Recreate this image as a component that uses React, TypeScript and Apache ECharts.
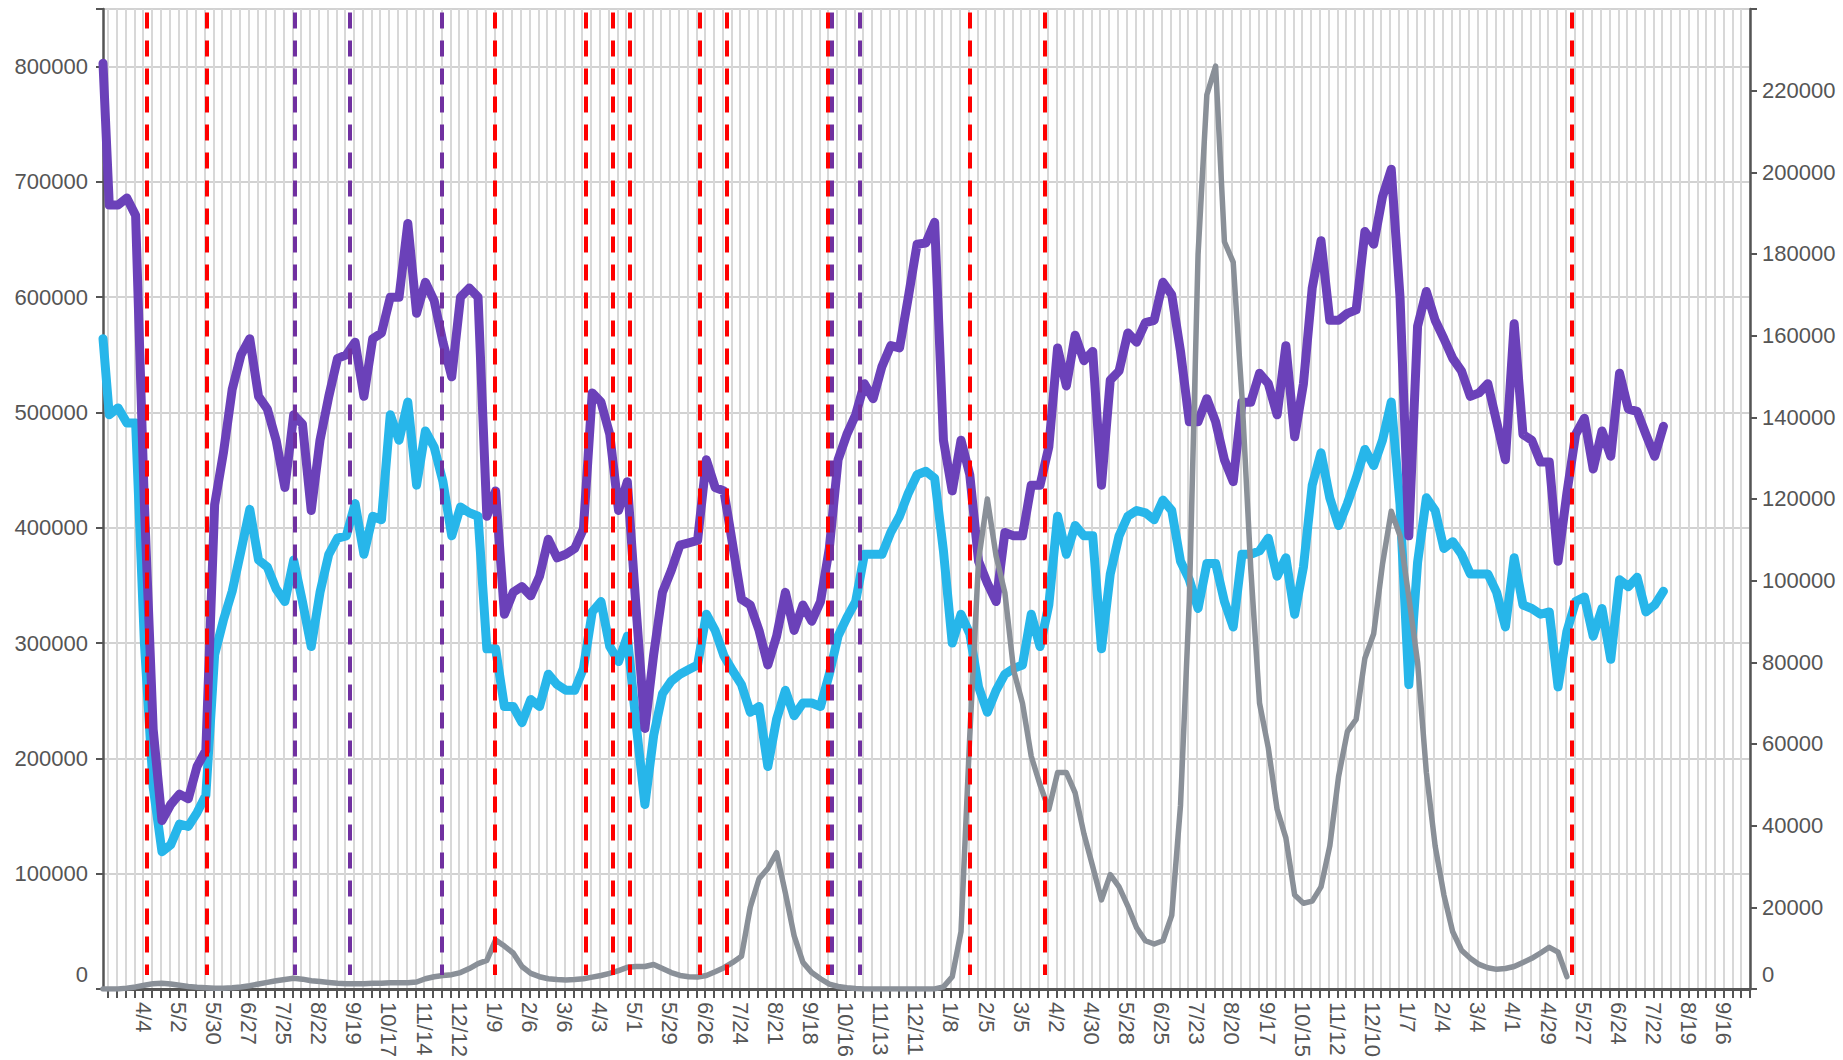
import React, { useEffect, useRef } from 'react';
import * as echarts from 'echarts';

// ---- time frame ----
const axisStartDate = '2020-03-03';
const axisEndDate = '2023-10-07';
const firstTickDate = '2020-03-07'; // weekly ticks (Saturdays)
const firstLabelDate = '2020-04-04'; // a label every 4 weeks
const firstPointDate = '2020-03-03';
const weeklyPointsStart = '2020-03-08';

const xTickLabels = [
  '4/4', '5/2', '5/30', '6/27', '7/25', '8/22', '9/19', '10/17', '11/14', '12/12',
  '1/9', '2/6', '3/6', '4/3', '5/1', '5/29', '6/26', '7/24', '8/21', '9/18', '10/16', '11/13', '12/11',
  '1/8', '2/5', '3/5', '4/2', '4/30', '5/28', '6/25', '7/23', '8/20', '9/17', '10/15', '11/12', '12/10',
  '1/7', '2/4', '3/4', '4/1', '4/29', '5/27', '6/24', '7/22', '8/19', '9/16',
];

// ---- series values ----
const purpleValues = [
  803000, 680000, 680000, 686000, 671000, 420000, 225000, 146000, 160000, 169000,
  165000, 193000, 207000, 420000, 465000, 520000, 550000, 564000, 514000, 503000,
  476000, 435000, 498000, 490000, 415000, 476000, 514000, 547000, 550000, 561000,
  514000, 564000, 569000, 600000, 600000, 664000, 586000, 613000, 597000, 561000,
  531000, 600000, 608000, 600000, 410000, 432000, 325000, 344000, 349000, 341000,
  358000, 390000, 374000, 377000, 382000, 399000, 517000, 509000, 481000, 415000,
  440000, 330000, 226000, 290000, 344000, 363000, 385000, 387000, 389000, 459000,
  435000, 432000, 385000, 338000, 333000, 311000, 281000, 306000, 344000, 311000,
  333000, 319000, 336000, 382000, 459000, 481000, 498000, 525000, 512000, 540000,
  558000, 556000, 600000, 646000, 647000, 665000, 476000, 432000, 476000, 446000,
  371000, 352000, 336000, 396000, 393000, 393000, 437000, 437000, 470000, 556000,
  523000, 567000, 545000, 553000, 437000, 528000, 536000, 569000, 561000, 578000,
  580000, 613000, 602000, 553000, 492000, 492000, 512000, 492000, 459000, 440000,
  509000, 509000, 534000, 525000, 498000, 558000, 479000, 525000, 608000, 649000,
  580000, 580000, 586000, 589000, 657000, 646000, 687000, 711000, 600000, 393000,
  575000, 605000, 580000, 564000, 547000, 536000, 514000, 517000, 525000, 492000,
  459000, 577000, 481000, 476000, 457000, 457000, 371000, 430000, 481000, 495000,
  451000, 484000, 462000, 534000, 503000, 501000, 481000, 462000, 488000,
];

const blueValues = [
  564000, 498000, 504000, 491000, 491000, 300000, 175000, 119000, 125000, 143000,
  141000, 153000, 168000, 290000, 320000, 345000, 380000, 416000, 372000, 366000,
  347000, 336000, 372000, 336000, 297000, 344000, 377000, 391000, 393000, 421000,
  377000, 410000, 407000, 498000, 476000, 509000, 437000, 484000, 470000, 440000,
  393000, 418000, 413000, 410000, 295000, 295000, 245000, 245000, 231000, 251000,
  245000, 273000, 264000, 259000, 259000, 278000, 327000, 336000, 297000, 284000,
  306000, 230000, 160000, 220000, 256000, 267000, 273000, 277000, 281000, 325000,
  311000, 289000, 276000, 264000, 240000, 245000, 193000, 234000, 259000, 237000,
  248000, 248000, 245000, 273000, 306000, 322000, 336000, 377000, 377000, 377000,
  396000, 410000, 430000, 446000, 449000, 443000, 380000, 300000, 325000, 308000,
  262000, 240000, 259000, 273000, 278000, 281000, 325000, 297000, 333000, 410000,
  377000, 402000, 393000, 393000, 295000, 360000, 393000, 410000, 415000, 413000,
  407000, 424000, 415000, 371000, 355000, 330000, 369000, 369000, 336000, 314000,
  377000, 377000, 380000, 391000, 358000, 374000, 325000, 366000, 437000, 465000,
  426000, 402000, 421000, 443000, 468000, 454000, 476000, 509000, 420000, 264000,
  370000, 426000, 415000, 382000, 388000, 377000, 360000, 360000, 360000, 344000,
  314000, 374000, 333000, 330000, 325000, 327000, 262000, 310000, 336000, 340000,
  306000, 330000, 286000, 355000, 349000, 357000, 327000, 333000, 345000,
];

const greyValues = [
  0, 0, 0, 200, 500, 900, 1300, 1400, 1200, 900,
  600, 400, 300, 200, 200, 300, 500, 800, 1200, 1600,
  2000, 2300, 2600, 2400, 2000, 1800, 1600, 1400, 1300, 1300,
  1300, 1400, 1400, 1500, 1500, 1500, 1700, 2500, 3000, 3300,
  3500, 4000, 5000, 6200, 7000, 12000, 10500, 8800, 5500, 3800,
  3000, 2500, 2300, 2200, 2300, 2500, 2900, 3300, 3800, 4500,
  5300, 5500, 5500, 6000, 5000, 4000, 3300, 3000, 2900, 3300,
  4200, 5200, 6500, 8000, 20000, 27000, 29500, 33400, 23500, 13000,
  6500, 4000, 2500, 1200, 600, 300, 100, 0, 0, 0,
  0, 0, 0, 0, 0, 0, 500, 3000, 14000, 62000,
  105000, 120000, 106000, 97000, 78000, 70000, 57000, 50000, 44000, 53000,
  53000, 48000, 38000, 30000, 21800, 28000, 25000, 20300, 15000, 11800,
  11000, 11800, 18000, 45000, 95000, 180000, 219000, 226000, 183000, 178000,
  145000, 103000, 70000, 59000, 44000, 37000, 23000, 21000, 21500, 25000,
  35000, 52000, 63000, 66000, 81000, 87000, 104000, 117000, 111000, 96000,
  80000, 53000, 35000, 23000, 14000, 9500, 7500, 6000, 5200, 4800,
  5000, 5500, 6500, 7500, 8800, 10200, 9000, 3000,
];

// ---- event markers ----
const redEventDates = [
  '2020-04-07', '2020-05-25', '2021-01-09', '2021-03-23', '2021-04-13', '2021-04-27',
  '2021-06-22', '2021-07-13', '2021-10-02', '2022-01-23', '2022-03-24', '2023-05-18',
];
const purpleEventDates = ['2020-08-03', '2020-09-16', '2020-11-28', '2021-10-05', '2021-10-27'];

// ---- axis ranges ----
const leftMax = 850000;
const leftInterval = 100000;
const rightMax = 240000;
const rightInterval = 20000;
const markerTop = 847000;
const markerBottom = 12000;

const DAY = 86400000;
const toDay = (s: string) =>
  Math.round((Date.parse(s + 'T00:00:00Z') - Date.parse(axisStartDate + 'T00:00:00Z')) / DAY);

const totalDays = toDay(axisEndDate);
const tickStart = toDay(firstTickDate);
const labelStart = toDay(firstLabelDate);

const pointDay = (i: number) =>
  i === 0 ? toDay(firstPointDate) : toDay(weeklyPointsStart) + 7 * (i - 1);

const categories: string[] = Array.from({ length: totalDays + 1 }, (_, k) =>
  new Date(Date.parse(axisStartDate + 'T00:00:00Z') + k * DAY).toISOString().slice(0, 10)
);
const labelByIndex: Record<number, string> = {};
xTickLabels.forEach((lab, m) => {
  labelByIndex[labelStart + 28 * m] = lab;
});

const isTick = (idx: number) => idx >= tickStart && (idx - tickStart) % 7 === 0;

const FONT = 'Liberation Sans, Arial, sans-serif';
const TXT = '#555555';

export default function App() {
  const ref = useRef<HTMLDivElement>(null);

  useEffect(() => {
    if (!ref.current) return;
    const chart = echarts.init(ref.current, null, { renderer: 'svg' });

    const mk = (dates: string[], color: string) =>
      dates.map((d) => [
        { coord: [toDay(d), markerTop], lineStyle: { color } },
        { coord: [toDay(d), markerBottom] },
      ]);

    const option: any = {
      animation: false,
      backgroundColor: '#ffffff',
      textStyle: { fontFamily: FONT },
      grid: { left: 103, right: 93, top: 9, bottom: 67, containLabel: false },
      xAxis: [
        {
          type: 'category',
          data: categories,
          boundaryGap: false,
          axisLine: { show: true, onZero: false, lineStyle: { color: '#555', width: 3 } },
          axisTick: {
            show: true,
            interval: (idx: number) => isTick(idx),
            length: 9,
            lineStyle: { color: '#555', width: 2 },
          },
          axisLabel: {
            interval: (idx: number) => labelByIndex[idx] !== undefined,
            formatter: (_v: string, idx: number) => labelByIndex[idx] ?? '',
            rotate: -90,
            fontSize: 22,
            color: TXT,
            margin: 13,
            fontFamily: FONT,
          },
          splitLine: {
            show: true,
            interval: (idx: number) => isTick(idx),
            lineStyle: { color: '#d8d8d8', width: 2 },
          },
        },
        { type: 'value', min: 0, max: totalDays, show: false },
      ],
      yAxis: [
        {
          type: 'value',
          position: 'left',
          min: 0,
          max: leftMax,
          interval: leftInterval,
          axisLine: { show: true, lineStyle: { color: '#555', width: 2.5 } },
          axisTick: { show: true, length: 7, lineStyle: { color: '#555', width: 2 } },
          axisLabel: {
            fontSize: 22,
            color: TXT,
            margin: 15,
            fontFamily: FONT,
            formatter: (v: number) => (v === 0 ? '{z|0}' : v > 800000 ? '' : String(v)),
            rich: { z: { fontSize: 22, color: TXT, fontFamily: FONT, padding: [0, 0, 28, 0] } },
          },
          splitLine: { show: true, lineStyle: { color: '#d2d2d2', width: 2 } },
        },
        {
          type: 'value',
          position: 'right',
          min: 0,
          max: rightMax,
          interval: rightInterval,
          axisLine: { show: true, lineStyle: { color: '#555', width: 2.5 } },
          axisTick: { show: true, length: 7, lineStyle: { color: '#555', width: 2 } },
          axisLabel: {
            fontSize: 22,
            color: TXT,
            margin: 12,
            fontFamily: FONT,
            formatter: (v: number) => (v === 0 ? '{z|0}' : v >= rightMax ? '' : String(v)),
            rich: { z: { fontSize: 22, color: TXT, fontFamily: FONT, padding: [0, 0, 28, 0] } },
          },
          splitLine: { show: false },
        },
      ],
      series: [
        {
          name: 'blue',
          type: 'line',
          xAxisIndex: 1,
          yAxisIndex: 0,
          showSymbol: false,
          symbol: 'none',
          data: blueValues.map((v, i) => [pointDay(i), v]),
          lineStyle: { color: '#27b6ea', width: 9, cap: 'round', join: 'round' },
          itemStyle: { color: '#27b6ea' },
        },
        {
          name: 'purple',
          type: 'line',
          xAxisIndex: 1,
          yAxisIndex: 0,
          showSymbol: false,
          symbol: 'none',
          data: purpleValues.map((v, i) => [pointDay(i), v]),
          lineStyle: { color: '#6b41b9', width: 9, cap: 'round', join: 'round' },
          itemStyle: { color: '#6b41b9' },
          markLine: {
            silent: true,
            symbol: ['none', 'none'],
            label: { show: false },
            animation: false,
            lineStyle: { type: [16, 12], width: 4 },
            data: [...mk(redEventDates, '#ff0000'), ...mk(purpleEventDates, '#7030a0')],
          },
        },
        {
          name: 'grey',
          type: 'line',
          xAxisIndex: 1,
          yAxisIndex: 1,
          showSymbol: false,
          symbol: 'none',
          data: greyValues.map((v, i) => [pointDay(i), v]),
          lineStyle: { color: '#8a9098', width: 5.5, cap: 'round', join: 'round' },
          itemStyle: { color: '#8a9098' },
        },
      ],
    };

    chart.setOption(option);
    return () => chart.dispose();
  }, []);

  return (
    <div
      ref={ref}
      style={{ position: 'fixed', left: 0, top: 0, width: 1843, height: 1060, background: '#fff' }}
    />
  );
}
